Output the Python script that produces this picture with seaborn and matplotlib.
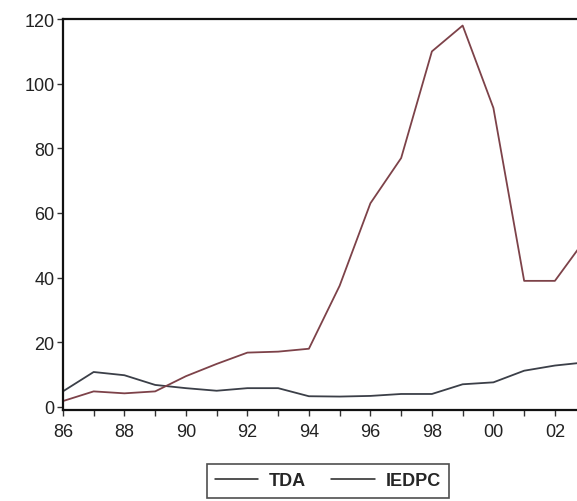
import numpy as np
import pandas as pd
import seaborn as sns
import matplotlib.pyplot as plt

years = list(range(1986, 2004))
tda = [4.8, 10.8, 9.8, 6.8, 5.8, 5.0, 5.8, 5.8, 3.3, 3.2, 3.4, 4.0, 4.0, 7.0, 7.6, 11.2, 12.8, 13.8]
iedpc = [1.8, 4.8, 4.2, 4.8, 9.5, 13.3, 16.8, 17.1, 18.0, 37.5, 63.0, 77.0, 110.0, 118.0, 92.5, 39.0, 39.0, 52.0]
tick_years = list(range(1986, 2004, 2))
tick_labels = ["86", "88", "90", "92", "94", "96", "98", "00", "02"]

df = pd.DataFrame({"year": years, "TDA": tda, "IEDPC": iedpc})
long = df.melt(id_vars="year", var_name="series", value_name="value")

sns.set_style("white")
plt.rcParams["font.family"] = ["Liberation Sans", "DejaVu Sans"]

fig = plt.figure(figsize=(5.77, 5.02), dpi=100)
# axes run past the right edge, as in the cropped original
ax = fig.add_axes([0.109, 0.181, 0.906, 0.779])

palette = {"TDA": "#3b3f48", "IEDPC": "#7d4249"}
sns.lineplot(data=long, x="year", y="value", hue="series", palette=palette,
             linewidth=1.3, ax=ax, legend=False)

ax.set_xlim(1986, 2003)
ax.set_ylim(-1, 120)
ax.set_xticks(tick_years)
ax.set_xticklabels(tick_labels)
ax.set_xticks(years, minor=True)
ax.set_yticks([0, 20, 40, 60, 80, 100, 120])
ax.set_xlabel("")
ax.set_ylabel("")
ax.tick_params(axis="both", which="both", direction="out", colors="#333333",
               labelcolor="#222222", labelsize=13, bottom=True, left=True)
ax.tick_params(axis="both", which="major", length=4, width=1)
ax.tick_params(axis="x", which="minor", length=4, width=1)
ax.tick_params(axis="x", pad=5)
ax.tick_params(axis="y", pad=2)
for side in ["left", "top", "bottom", "right"]:
    ax.spines[side].set_color("#111111")
    ax.spines[side].set_linewidth(1.6)

handles = [plt.Line2D([], [], color="#222222", lw=1.1),
           plt.Line2D([], [], color="#222222", lw=1.1)]
leg = fig.legend(handles, ["TDA", "IEDPC"], loc="center",
                 bbox_to_anchor=(0.568, 0.04), ncol=2, frameon=True,
                 fancybox=False, edgecolor="#222222", handlelength=2.4,
                 handletextpad=0.6, columnspacing=1.4, borderpad=0.45,
                 prop={"size": 13, "weight": "bold"})
leg.get_frame().set_linewidth(1.2)

fig.savefig("out.png", dpi=100)
